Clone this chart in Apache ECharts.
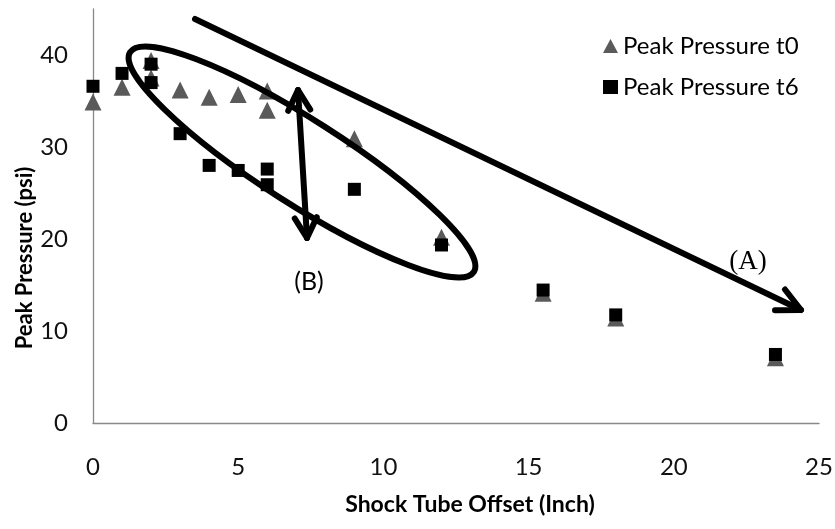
<!DOCTYPE html>
<html><head><meta charset="utf-8">
<script src="https://cdn.jsdelivr.net/npm/echarts@6/dist/echarts.min.js"></script>
<style>html,body{margin:0;padding:0;background:#fff}#c{width:835px;height:529px}</style>
</head><body><div id="c"></div>
<script>
// Data
const offsetT0 = [0, 1, 2, 2, 3, 4, 5, 6, 6, 9, 12, 15.5, 18, 23.5];
const pressureT0 = [34.9, 36.5, 39.4, 37.5, 36.2, 35.4, 35.7, 36.1, 34.0, 30.9, 20.2, 14.1, 11.4, 7.1];
const offsetT6 = [0, 1, 2, 2, 3, 4, 5, 6, 6, 9, 12, 15.5, 18, 23.5];
const pressureT6 = [36.6, 38.0, 39.0, 37.0, 31.45, 28.0, 27.45, 27.6, 25.9, 25.4, 19.35, 14.45, 11.75, 7.45];
const seriesNames = ['Peak Pressure t0', 'Peak Pressure t6'];
const xTickValues = [0, 5, 10, 15, 20, 25];
const yTickValues = [0, 10, 20, 30, 40];
const xTitle = 'Shock Tube Offset (Inch)';
const yTitle = 'Peak Pressure (psi)';
const annotationA = '(A)';
const annotationB = '(B)';

const pairs = (xs, ys) => xs.map((x, i) => [x, ys[i]]);

function arrowHead(tipX, tipY, fromX, fromY, len, spread) {
  const ang = Math.atan2(fromY - tipY, fromX - tipX);
  const a1 = ang + spread, a2 = ang - spread;
  return [[tipX + len * Math.cos(a1), tipY + len * Math.sin(a1)], [tipX, tipY], [tipX + len * Math.cos(a2), tipY + len * Math.sin(a2)]];
}

const chart = echarts.init(document.getElementById('c'), null, {renderer: 'canvas'});
const mkLine = () => ({stroke: '#000', lineWidth: 6, lineCap: 'round', lineJoin: 'round', fill: 'transparent'});
const A0 = [195, 19], A1 = [801, 310];
const B0 = [298, 90], B1 = [307, 238];

const option = {
  backgroundColor: '#fff',
  animation: false,
  grid: {left: 93, right: 16, top: 9, bottom: 106, containLabel: false, outerBoundsMode: 'none'},
  xAxis: {
    type: 'value', min: xTickValues[0], max: xTickValues[xTickValues.length - 1], interval: 5,
    axisLine: {show: true, onZero: false, lineStyle: {color: '#898989', width: 1.3}},
    axisTick: {show: false}, splitLine: {show: false},
    axisLabel: {margin: 32, color: '#111', fontFamily: 'Lato', fontSize: 24},
    name: xTitle, nameLocation: 'middle', nameGap: 70, nameMoveOverlap: false,
    nameTextStyle: {fontFamily: 'Lato', fontWeight: 'bold', fontSize: 23, color: '#000', padding: [0, 0, 0, 28]}
  },
  yAxis: {
    type: 'value', min: 0, max: 45, interval: 10,
    axisLine: {show: true, onZero: false, lineStyle: {color: '#898989', width: 1.3}},
    axisTick: {show: false}, splitLine: {show: false},
    axisLabel: {margin: 25, color: '#111', fontFamily: 'Lato', fontSize: 24, showMaxLabel: false,
      formatter: v => (yTickValues.indexOf(v) >= 0 ? String(v) : '')},
    name: yTitle, nameLocation: 'middle', nameGap: 57, nameRotate: 90, nameMoveOverlap: false,
    nameTextStyle: {fontFamily: 'Lato', fontWeight: 'bold', fontSize: 22, color: '#000', padding: [0, 84, 0, 0]}
  },
  legend: {
    orient: 'vertical', left: 603, top: 33, padding: 0, itemWidth: 15, itemHeight: 14, itemGap: 15,
    textStyle: {fontFamily: 'Lato', fontSize: 24, color: '#000', lineHeight: 26},
    data: [{name: seriesNames[0], icon: 'triangle'}, {name: seriesNames[1], icon: 'rect'}]
  },
  series: [
    {name: seriesNames[0], type: 'scatter', symbol: 'triangle', symbolSize: [17, 17],
      itemStyle: {color: '#5a5a5a', opacity: 1}, data: pairs(offsetT0, pressureT0), z: 2},
    {name: seriesNames[1], type: 'scatter', symbol: 'rect', symbolSize: 13,
      itemStyle: {color: '#000', opacity: 1}, data: pairs(offsetT6, pressureT6), z: 3}
  ],
  graphic: [
    {type: 'ellipse', shape: {cx: 0, cy: 0, rx: 204, ry: 42}, x: 302, y: 162, rotation: -32.6 * Math.PI / 180,
      style: mkLine(), z: 10},
    {type: 'line', shape: {x1: A0[0], y1: A0[1], x2: A1[0], y2: A1[1]}, style: mkLine(), z: 10},
    {type: 'polyline', shape: {points: arrowHead(A1[0], A1[1], A0[0], A0[1], 26, 0.46)}, style: mkLine(), z: 10},
    {type: 'line', shape: {x1: B0[0], y1: B0[1], x2: B1[0], y2: B1[1]}, style: mkLine(), z: 10},
    {type: 'polyline', shape: {points: arrowHead(B0[0], B0[1], B1[0], B1[1], 23, 0.5)}, style: mkLine(), z: 10},
    {type: 'polyline', shape: {points: arrowHead(B1[0], B1[1], B0[0], B0[1], 23, 0.5)}, style: mkLine(), z: 10},
    {type: 'text', x: 748, y: 262, z: 10,
      style: {text: annotationA, font: '27px "Liberation Serif"', fill: '#000', align: 'center', verticalAlign: 'middle', textAlign: 'center', textVerticalAlign: 'middle'}},
    {type: 'text', x: 309, y: 282, z: 10,
      style: {text: annotationB, font: '25px Lato', fill: '#000', align: 'center', verticalAlign: 'middle', textAlign: 'center', textVerticalAlign: 'middle'}}
  ]
};
chart.setOption(option);
</script>
</body></html>
